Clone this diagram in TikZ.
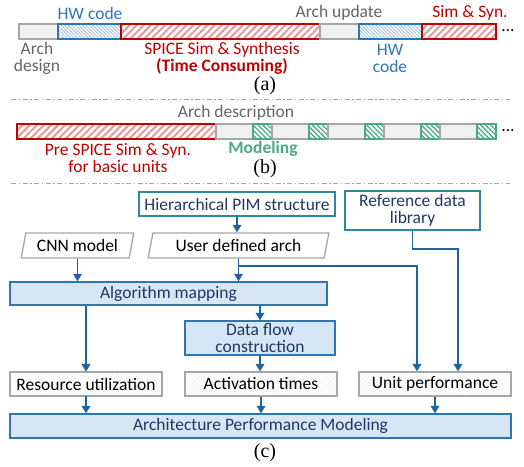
\documentclass[tikz,border=0pt]{standalone}
\usepackage{fontspec}
\setmainfont{Carlito}
\newfontfamily\capfont{Liberation Serif}
\usetikzlibrary{arrows.meta,patterns.meta,shapes.geometric}

\definecolor{myred}{RGB}{192,0,0}
\definecolor{myblue}{RGB}{46,117,182}
\definecolor{mygreen}{RGB}{76,168,136}
\definecolor{mygray}{RGB}{166,166,166}
\definecolor{txtgray}{RGB}{100,100,100}
\definecolor{navy}{RGB}{31,56,100}
\definecolor{teal2}{RGB}{49,133,156}
\definecolor{lblue}{RGB}{214,230,244}
\definecolor{arrblue}{RGB}{31,99,160}

\begin{document}
\begin{tikzpicture}[x=1pt,y=-1pt,>={Triangle[width=8.5pt,length=7.5pt]},
    font=\fontsize{17.5pt}{17pt}\selectfont]
      \tikzstyle{seg}=[draw,rectangle,inner sep=0pt,outer sep=0pt,minimum height=15pt,anchor=west,line width=1.1pt]
      \tikzstyle{grayseg}=[seg,draw=mygray,fill=gray!12]
      \tikzstyle{redseg}=[seg,draw=myred,pattern={Lines[angle=45,distance=5pt,line width=2pt]},pattern color=myred!40]
      \tikzstyle{blueseg}=[seg,draw=myblue,pattern={Lines[angle=-45,distance=2.5pt,line width=0.9pt]},pattern color=myblue!45]
      \tikzstyle{greenseg}=[seg,draw=mygreen,pattern={Lines[angle=-45,distance=3.5pt,line width=1.3pt]},pattern color=mygreen]
      \tikzstyle{sublabel}=[inner sep=0pt,font=\capfont\fontsize{20pt}{22pt}\selectfont]
      \tikzstyle{sepline}=[mygray,line width=1pt,dash pattern=on 5pt off 2.5pt on 1.5pt off 2.5pt]
      \tikzstyle{blk}=[draw=myblue,fill=lblue,line width=1.3pt,text=navy,inner sep=0pt,align=center]
      \tikzstyle{outbox}=[draw=teal2,fill=white,line width=1.3pt,text=navy,inner sep=0pt,align=center]
      \tikzstyle{io}=[draw=mygray,line width=1.3pt,trapezium,trapezium left angle=74,trapezium right angle=106,trapezium stretches=true,inner sep=0pt]
      \tikzstyle{result}=[draw=mygray,line width=1.3pt,inner sep=0pt,pattern={Lines[angle=45,distance=3pt,line width=0.8pt]},pattern color=gray!10]
      \tikzstyle{arr}=[->,arrblue,line width=1.8pt]

      \useasboundingbox (0,0) rectangle (524,466);

      % (a) design flow
      \node[grayseg,minimum width=39pt] (a1) at (19,31.5) {};
      \node[blueseg,minimum width=63pt] (a2) at (58,31.5) {};
      \node[redseg,minimum width=199pt] (a3) at (121,31.5) {};
      \node[grayseg,minimum width=39pt] (a4) at (320,31.5) {};
      \node[blueseg,minimum width=63pt] (a5) at (359,31.5) {};
      \node[redseg,minimum width=74pt] (a6) at (422,31.5) {};
      \node[inner sep=0pt] (adots) at (508,31) {...};
      \node[text=myblue] (hw1) at (90,13) {HW code};
      \node[text=txtgray] (upd) at (339,13) {Arch update};
      \node[text=myred,inner sep=0pt] (sim2) at (470,13) {Sim \& Syn.};
      \node[text=txtgray,align=center] (ades) at (37,58) {Arch\\design};
      \node[text=myred,align=center,inner sep=0pt] (sim1) at (222,58) {SPICE Sim \& Synthesis\\\textbf{(Time Consuming)}};
      \node[text=myblue,align=center] (hw2) at (390,58) {HW\\code};
      \node[sublabel] (la) at (265,86) {(a)};

      \draw[sepline] (11,99) -- (510,99);

      % (b) modeling flow
      \node[redseg,minimum width=199pt] (b0) at (17,131.5) {};
      \node[grayseg,minimum width=37pt] (b1) at (216,131.5) {};
      \node[greenseg,minimum width=19pt] (b2) at (253,131.5) {};
      \node[grayseg,minimum width=37pt] (b3) at (272,131.5) {};
      \node[greenseg,minimum width=19pt] (b4) at (309,131.5) {};
      \node[grayseg,minimum width=37pt] (b5) at (328,131.5) {};
      \node[greenseg,minimum width=19pt] (b6) at (365,131.5) {};
      \node[grayseg,minimum width=37pt] (b7) at (384,131.5) {};
      \node[greenseg,minimum width=19pt] (b8) at (421,131.5) {};
      \node[grayseg,minimum width=37pt] (b9) at (440,131.5) {};
      \node[greenseg,minimum width=19pt] (b10) at (477,131.5) {};
      \node[inner sep=0pt] (bdots) at (508,131) {...};
      \node[text=txtgray] (desc) at (236,113) {Arch description};
      \node[text=myred,align=center] (pre) at (118,158) {Pre SPICE Sim \& Syn.\\for basic units};
      \node[text=mygreen,inner sep=0pt,font=\fontsize{17.5pt}{17pt}\selectfont\bfseries] (mod) at (263,149) {Modeling};
      \node[sublabel] (lb) at (265,169) {(b)};

      \draw[sepline] (11,183) -- (510,183);

      % (c) framework
      \node[outbox,minimum width=196pt,minimum height=24pt] (hier) at (237,204) {Hierarchical PIM structure};
      \node[outbox,minimum width=135pt,minimum height=39pt] (ref) at (412.5,210.5) {Reference data\\library};
      \node[io,minimum width=113pt,minimum height=25pt] (cnn) at (77.5,245.5) {CNN model};
      \node[io,minimum width=181pt,minimum height=25pt] (user) at (238.5,245.5) {User defined arch};
      \node[blk,minimum width=317pt,minimum height=23pt] (algo) at (168.5,293.5) {Algorithm mapping};
      \node[blk,minimum width=150pt,minimum height=34pt] (flow) at (260,338) {Data flow\\construction};
      \node[result,minimum width=152pt,minimum height=24pt] (resu) at (86,384) {Resource utilization};
      \node[result,minimum width=152pt,minimum height=24pt] (act) at (261,384) {Activation times};
      \node[result,minimum width=152pt,minimum height=24pt] (unit) at (435,384) {Unit performance};
      \node[blk,minimum width=501pt,minimum height=24pt] (apm) at (260.5,426) {Architecture Performance Modeling};
      \node[sublabel] (lc) at (265,453) {(c)};

      \draw[arr] (hier.south) -- (hier.south |- user.north);
      \draw[arr] (cnn.south) -- (cnn.south |- algo.north);
      \draw[arr] (user.south) -- (user.south |- algo.north);
      \draw[arr] (user.south) -- ++(0,7) -| ([xshift=-18pt]unit.north);
      \draw[arr] (ref.south) -- ++(0,18) -| ([xshift=23pt]unit.north);
      \draw[arr] (flow.north |- algo.south) -- (flow.north);
      \draw[arr] (resu.north |- algo.south) -- (resu.north);
      \draw[arr] (flow.south) -- (flow.south |- act.north);
      \draw[arr] (resu.south) -- (resu.south |- apm.north);
      \draw[arr] (act.south) -- (act.south |- apm.north);
      \draw[arr] (unit.south) -- (unit.south |- apm.north);
\end{tikzpicture}
\end{document}
